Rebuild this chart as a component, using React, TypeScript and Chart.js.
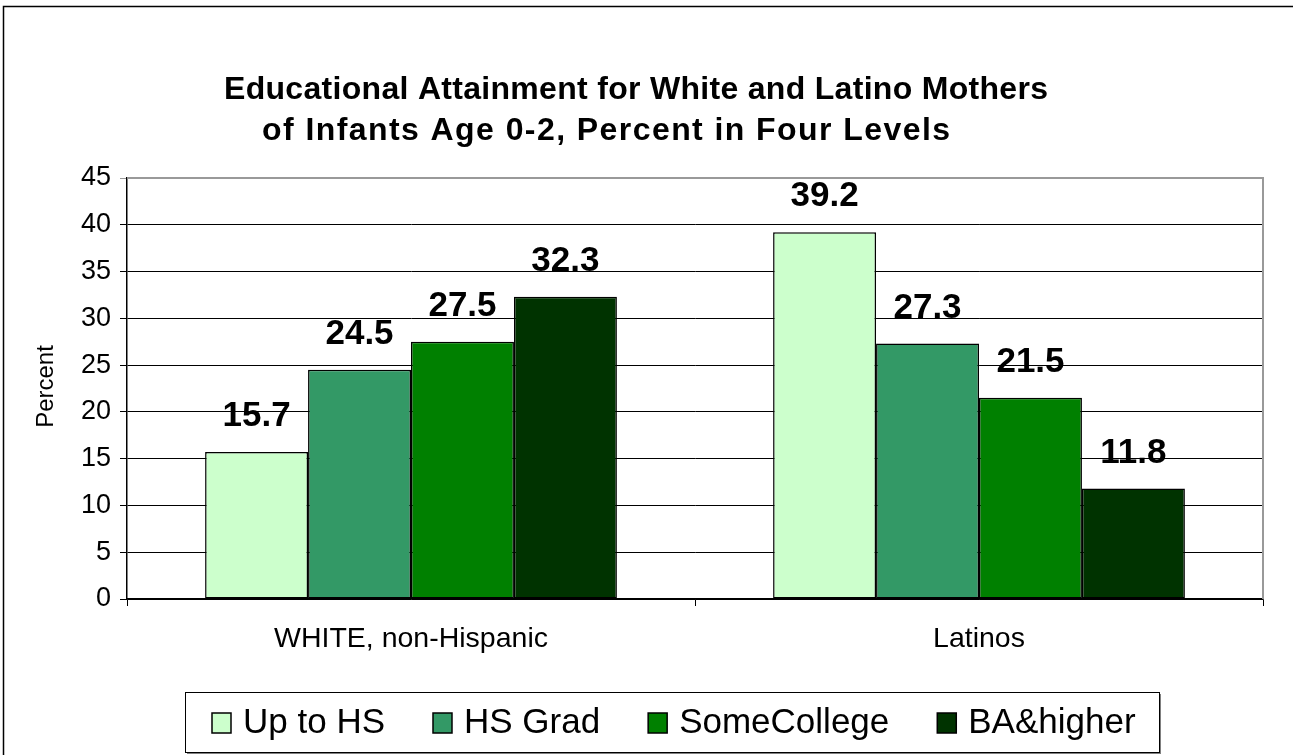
import React, { useEffect, useRef } from "react";
import { Chart, registerables } from "chart.js";

Chart.register(...registerables);

const categories = ["WHITE, non-Hispanic", "Latinos"];
const seriesLabels = ["Up to HS", "HS Grad", "SomeCollege", "BA&higher"];
const upToHS = [15.7, 39.2];
const hsGrad = [24.5, 27.3];
const someCollege = [27.5, 21.5];
const baHigher = [32.3, 11.8];
const seriesColors = ["#CCFFCC", "#339966", "#008000", "#003300"];
const titleLines = [
  "Educational Attainment for White and Latino Mothers",
  "of Infants Age 0-2, Percent in Four Levels",
];
const yAxisTitle = "Percent";
const yMin = 0;
const yMax = 45;
const yStep = 5;

const FONT = '"Liberation Sans", Arial, Helvetica, sans-serif';

function drawSpaced(ctx: CanvasRenderingContext2D, text: string, cx: number, y: number, targetWidth: number) {
  (ctx as any).letterSpacing = "0px";
  const w = ctx.measureText(text).width;
  const n = text.length;
  const ls = n > 1 ? Math.max(0, (targetWidth - w) / (n - 1)) : 0;
  (ctx as any).letterSpacing = ls + "px";
  ctx.textAlign = "left";
  ctx.fillText(text, cx - (w + ls * (n - 1)) / 2, y);
  (ctx as any).letterSpacing = "0px";
}

const decorPlugin = {
  id: "decor",
  beforeDraw(chart: any) {
    const ctx: CanvasRenderingContext2D = chart.ctx;
    ctx.save();
    ctx.fillStyle = "#ffffff";
    ctx.fillRect(0, 0, chart.width, chart.height);
    ctx.strokeStyle = "#000000";
    ctx.lineWidth = 1.5;
    ctx.beginPath();
    ctx.moveTo(3.5, chart.height + 5);
    ctx.lineTo(3.5, 6.5);
    ctx.lineTo(chart.width + 5, 6.5);
    ctx.stroke();
    ctx.restore();
  },
  afterDraw(chart: any) {
    const ctx: CanvasRenderingContext2D = chart.ctx;
    const { left, right, top, bottom } = chart.chartArea;
    ctx.save();

    // plot area grey frame (top/right)
    ctx.strokeStyle = "#999999";
    ctx.lineWidth = 2;
    ctx.beginPath();
    ctx.moveTo(left, top);
    ctx.lineTo(right, top);
    ctx.lineTo(right, bottom);
    ctx.stroke();

    // data labels
    ctx.fillStyle = "#000000";
    ctx.font = `bold 35px ${FONT}`;
    ctx.textAlign = "center";
    ctx.textBaseline = "alphabetic";
    chart.data.datasets.forEach((ds: any, i: number) => {
      const meta = chart.getDatasetMeta(i);
      meta.data.forEach((bar: any, j: number) => {
        const v = ds.data[j];
        ctx.fillText(Number(v).toFixed(1), bar.x, bar.y - 26);
      });
    });

    // title
    ctx.font = `bold 32px ${FONT}`;
    ctx.textBaseline = "alphabetic";
    drawSpaced(ctx, titleLines[0], 636, 99, 824);
    drawSpaced(ctx, titleLines[1], 606, 140, 688);

    // y axis title
    ctx.save();
    ctx.translate(46, (top + bottom) / 2 - 2);
    ctx.rotate(-Math.PI / 2);
    ctx.font = `24px ${FONT}`;
    ctx.textAlign = "center";
    ctx.textBaseline = "middle";
    ctx.fillText(yAxisTitle, 0, 0);
    ctx.restore();

    // legend box
    const bx = 185, by = 692, bw = 974, bh = 60;
    ctx.fillStyle = "#808080";
    ctx.fillRect(bx + 2, by + 2, bw, bh);
    ctx.fillStyle = "#ffffff";
    ctx.fillRect(bx, by, bw, bh);
    ctx.strokeStyle = "#000000";
    ctx.lineWidth = 1;
    ctx.strokeRect(bx + 0.5, by + 0.5, bw, bh);

    ctx.font = `35px ${FONT}`;
    ctx.textAlign = "left";
    ctx.textBaseline = "alphabetic";
    const sqW = 19, sqH = 20, gap = 12, itemGap = 48;
    let x = 212;
    chart.data.datasets.forEach((d: any) => {
      ctx.fillStyle = d.backgroundColor;
      ctx.fillRect(x, 713, sqW, sqH);
      ctx.strokeStyle = "#000000";
      ctx.lineWidth = 1.5;
      ctx.strokeRect(x, 713, sqW, sqH);
      ctx.fillStyle = "#000000";
      ctx.fillText(d.label, x + sqW + gap, 733);
      x += sqW + gap + ctx.measureText(d.label).width + itemGap;
    });

    ctx.restore();
  },
};

export default function App() {
  const canvasRef = useRef<HTMLCanvasElement | null>(null);

  useEffect(() => {
    const canvas = canvasRef.current;
    if (!canvas) return;
    const seriesValues = [upToHS, hsGrad, someCollege, baHigher];
    const chart = new Chart(canvas, {
      type: "bar",
      data: {
        labels: categories,
        datasets: seriesLabels.map((label, i) => ({
          label,
          data: seriesValues[i],
          backgroundColor: seriesColors[i],
          borderColor: "#000000",
          borderWidth: 1.5,
          borderSkipped: false,
          barPercentage: 1.0,
          categoryPercentage: 0.725,
        })),
      },
      options: {
        animation: false,
        responsive: false,
        maintainAspectRatio: false,
        devicePixelRatio: 1,
        layout: { padding: { left: 0, right: 30, top: 178, bottom: 0 } },
        plugins: {
          legend: { display: false },
          title: { display: false },
          tooltip: { enabled: false },
        },
        scales: {
          x: {
            grid: { drawOnChartArea: false, tickLength: 7, color: "#000000", offset: true },
            border: { color: "#000000", width: 1.5 },
            ticks: { font: { family: FONT, size: 28.5 }, color: "#000000", padding: 16 },
            afterFit: (s: any) => {
              s.height = 156;
            },
          },
          y: {
            min: yMin,
            max: yMax,
            ticks: { stepSize: yStep, font: { family: FONT, size: 27 }, color: "#000000", padding: 9 },
            grid: {
              color: (c: any) => (c.tick && c.tick.value === yMax ? "#999999" : "#000000"),
              tickLength: 7,
              lineWidth: 1,
            },
            border: { color: "#000000", width: 1.5 },
            afterFit: (s: any) => {
              s.width = 127;
            },
          },
        },
      },
      plugins: [decorPlugin],
    });
    return () => chart.destroy();
  }, []);

  return (
    <div style={{ position: "fixed", left: 0, top: 0, width: 1293, height: 755, background: "#fff" }}>
      <canvas ref={canvasRef} width={1293} height={755} style={{ display: "block", width: 1293, height: 755 }} />
    </div>
  );
}
